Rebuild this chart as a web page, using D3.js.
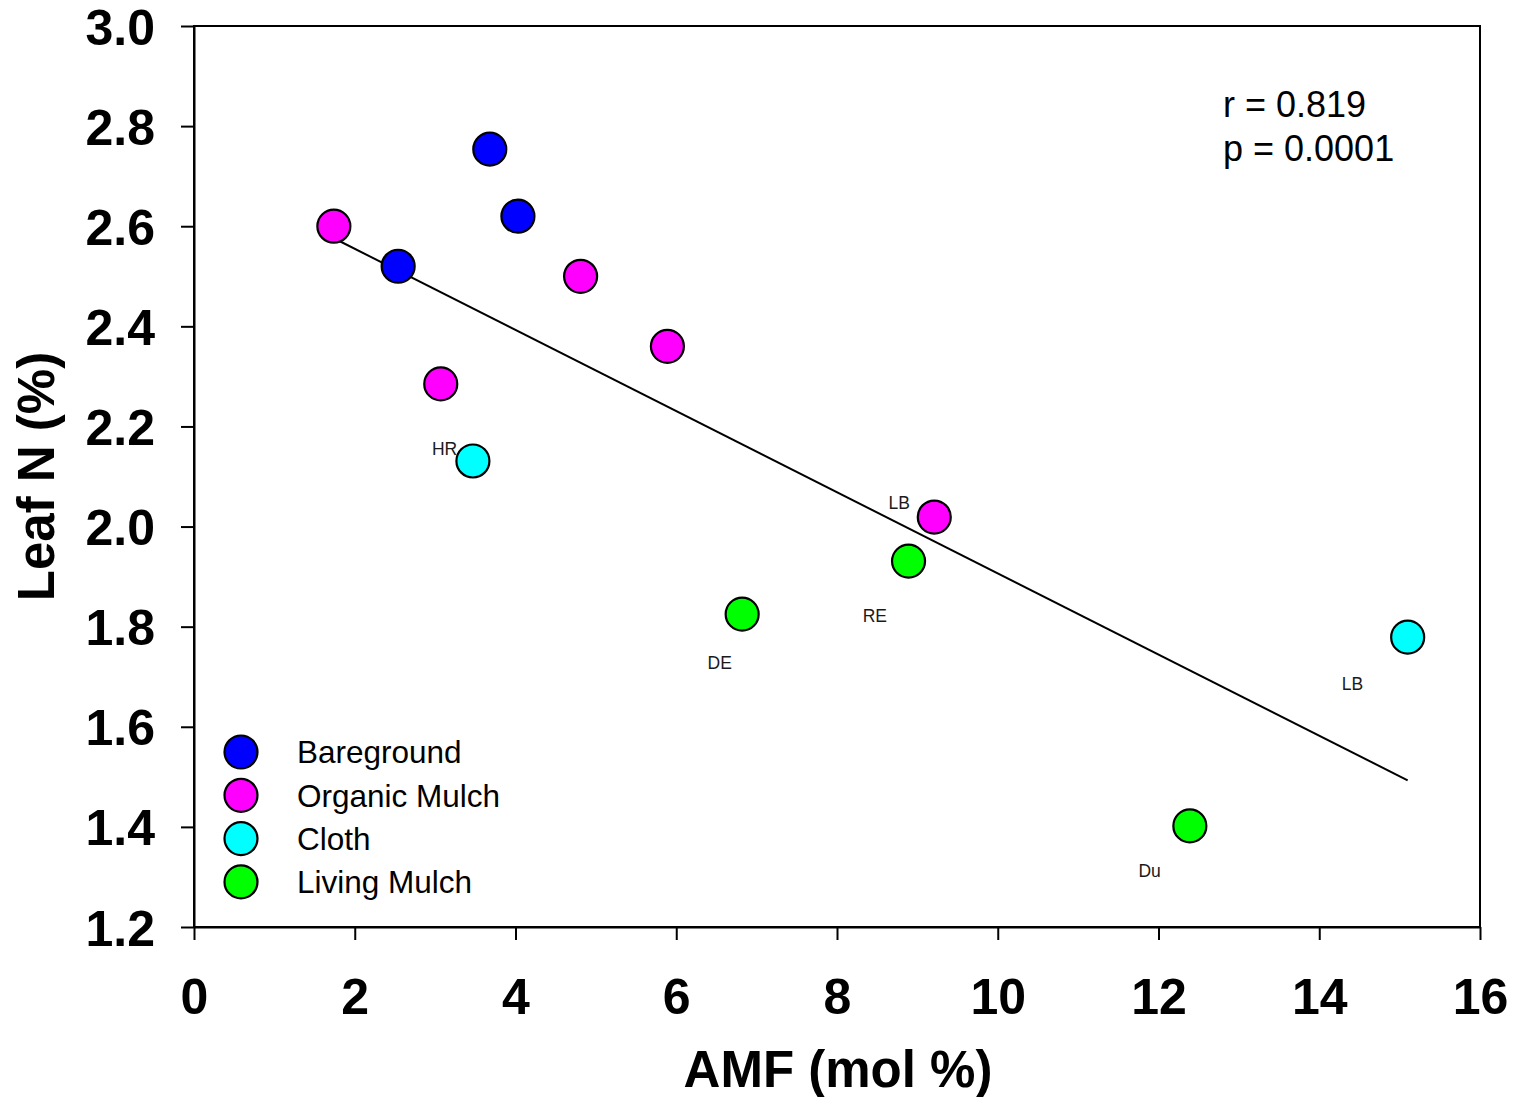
<!DOCTYPE html>
<html>
<head>
<meta charset="utf-8">
<script src="https://cdn.jsdelivr.net/npm/d3@7"></script>
<style>
  body { margin: 0; background: #fff; }
  svg { font-family: Arial, "Liberation Sans", sans-serif; }
</style>
</head>
<body>
<div id="chart"></div>
<script>
// series data (AMF mol %, Leaf N %)
var groups = ["Bareground", "Organic Mulch", "Cloth", "Living Mulch"];
var colors = ["#0000ff", "#ff00ff", "#00ffff", "#00ff00"];

var bareAMF = [3.68, 4.03, 2.54];
var bareN = [2.754, 2.62, 2.52];
var organicAMF = [1.74, 4.81, 5.89, 3.07, 9.21];
var organicN = [2.60, 2.50, 2.36, 2.285, 2.019];
var clothAMF = [3.47, 15.1];
var clothN = [2.131, 1.779];
var livingAMF = [6.82, 8.89, 12.39];
var livingN = [1.825, 1.931, 1.402];

// small point labels: text, x, y (data units)
var labelText = ["HR", "LB", "RE", "DE", "LB", "Du"];
var labelX = [2.96, 8.64, 8.32, 6.39, 14.28, 11.75];
var labelY = [2.143, 2.035, 1.809, 1.716, 1.674, 1.300];

// regression line endpoints
var fitX = [1.74, 15.1];
var fitY = [2.576, 1.493];

var xTicks = d3.range(0, 17, 2);
var yTicks = [1.2, 1.4, 1.6, 1.8, 2.0, 2.2, 2.4, 2.6, 2.8, 3.0];

var margin = {top: 26, right: 37, bottom: 170, left: 194},
  width = 1517 - margin.left - margin.right,
  height = 1097 - margin.top - margin.bottom;

var svg = d3.select("#chart")
  .append("svg")
  .attr("width", 1517)
  .attr("height", 1097)
  .append("g")
  .attr("transform", "translate(" + margin.left + "," + margin.top + ")");

var x = d3.scaleLinear().domain([0, 16]).range([0, width]);
var y = d3.scaleLinear().domain([1.2, 3.0]).range([height, 0]);

// frame
svg.append("rect")
  .attr("x", 0).attr("y", 0)
  .attr("width", width).attr("height", height)
  .attr("fill", "none")
  .attr("stroke", "#000")
  .attr("stroke-width", 2);

// axes
var xAxis = svg.append("g")
  .attr("transform", "translate(0," + height + ")")
  .call(d3.axisBottom(x).tickValues(xTicks).tickSize(13).tickPadding(38).tickSizeOuter(0));
var yAxis = svg.append("g")
  .call(d3.axisLeft(y).tickValues(yTicks).tickSize(13).tickPadding(26)
    .tickFormat(d3.format(".1f")).tickSizeOuter(0));

[xAxis, yAxis].forEach(function(a) {
  a.select(".domain").attr("stroke-width", 2);
  a.selectAll(".tick line").attr("stroke-width", 2);
  a.selectAll("text")
    .attr("font-family", "Arial, 'Liberation Sans', sans-serif")
    .attr("font-weight", "bold")
    .attr("font-size", 50)
    .attr("fill", "#000");
});
yAxis.selectAll("text").attr("dy", "0.36em");

// axis titles
svg.append("text")
  .attr("x", width / 2 + 1)
  .attr("y", height + 160)
  .attr("text-anchor", "middle")
  .attr("font-weight", "bold")
  .attr("font-size", 51)
  .text("AMF (mol %)");

svg.append("text")
  .attr("transform", "translate(" + (-140) + "," + (height / 2) + ") rotate(-90)")
  .attr("text-anchor", "middle")
  .attr("font-weight", "bold")
  .attr("font-size", 51)
  .text("Leaf N (%)");

// regression line
svg.append("line")
  .attr("x1", x(fitX[0])).attr("y1", y(fitY[0]))
  .attr("x2", x(fitX[1])).attr("y2", y(fitY[1]))
  .attr("stroke", "#000")
  .attr("stroke-width", 2);

// points
var series = [
  {xs: bareAMF, ys: bareN},
  {xs: organicAMF, ys: organicN},
  {xs: clothAMF, ys: clothN},
  {xs: livingAMF, ys: livingN}
];
var points = [];
series.forEach(function(s, i) {
  s.xs.forEach(function(v, j) {
    points.push({x: v, y: s.ys[j], g: i});
  });
});

svg.selectAll(".pt")
  .data(points)
  .enter().append("circle")
  .attr("class", "pt")
  .attr("cx", d => x(d.x))
  .attr("cy", d => y(d.y))
  .attr("r", 16.5)
  .attr("fill", d => colors[d.g])
  .attr("stroke", "#000")
  .attr("stroke-width", 2.2);

// small labels
svg.selectAll(".lbl")
  .data(labelText)
  .enter().append("text")
  .attr("class", "lbl")
  .attr("x", (d, i) => x(labelX[i]))
  .attr("y", (d, i) => y(labelY[i]))
  .attr("font-size", 17.5)
  .attr("fill", "#1a1a1a")
  .text(d => d);

// stats text
svg.append("text")
  .attr("x", 1029).attr("y", 91)
  .attr("font-size", 36)
  .text("r = 0.819");
svg.append("text")
  .attr("x", 1029).attr("y", 135)
  .attr("font-size", 36)
  .text("p = 0.0001");

// legend
var legend = svg.append("g")
  .attr("transform", "translate(47,726)");
var items = legend.selectAll("g")
  .data(groups)
  .enter().append("g")
  .attr("transform", (d, i) => "translate(0," + (i * 43.3) + ")");
items.append("circle")
  .attr("r", 16.5)
  .attr("fill", (d, i) => colors[i])
  .attr("stroke", "#000")
  .attr("stroke-width", 2.2);
items.append("text")
  .attr("x", 56)
  .attr("dy", "0.36em")
  .attr("font-size", 31.5)
  .text(d => d);
</script>
</body>
</html>
